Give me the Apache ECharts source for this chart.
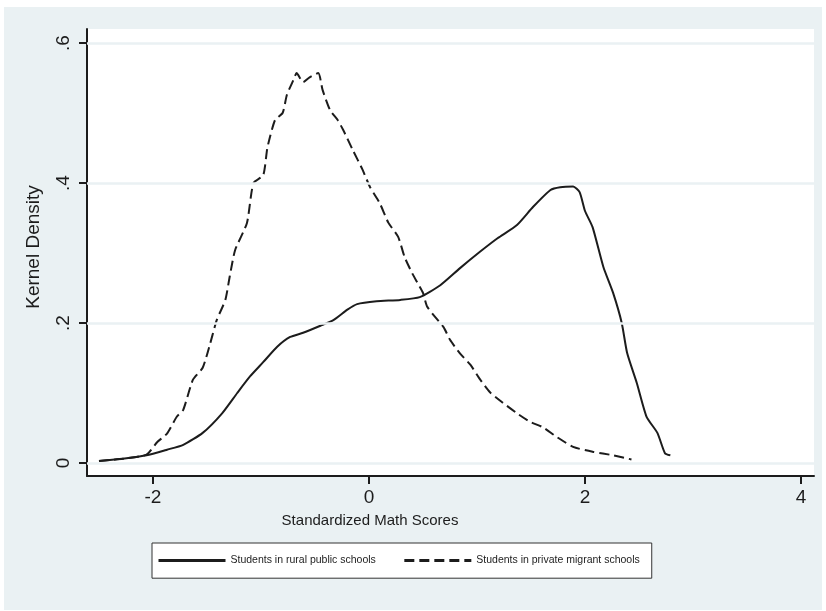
<!DOCTYPE html>
<html>
<head>
<meta charset="utf-8">
<script src="https://cdn.jsdelivr.net/npm/echarts@6/dist/echarts.min.js"></script>
<style>
html,body{margin:0;padding:0;background:#ffffff;}
#bg{position:absolute;left:4px;top:7px;width:818px;height:603px;background:#EAF1F3;}
#chart{position:absolute;left:0;top:0;width:826px;height:611px;}
</style>
</head>
<body>
<div id="bg"></div>
<div id="chart"></div>
<script>
// Students in rural public schools (solid)
const ruralX = [-2.50,-2.28,-2.06,-1.87,-1.72,-1.54,-1.36,-1.22,-1.10,-0.98,-0.85,-0.73,-0.61,-0.45,-0.33,-0.20,-0.11,0.07,0.29,0.47,0.66,0.84,1.03,1.19,1.37,1.52,1.68,1.77,1.89,1.95,2.00,2.07,2.17,2.26,2.34,2.39,2.48,2.57,2.67,2.74,2.79];
const ruralY = [0.003,0.006,0.011,0.019,0.026,0.043,0.071,0.100,0.124,0.144,0.166,0.180,0.186,0.196,0.204,0.219,0.227,0.231,0.233,0.237,0.254,0.278,0.302,0.321,0.340,0.366,0.390,0.394,0.395,0.387,0.360,0.337,0.280,0.243,0.200,0.157,0.114,0.066,0.043,0.014,0.011];
// Students in private migrant schools (dashed)
const migrantX = [-2.50,-2.28,-2.06,-1.96,-1.87,-1.78,-1.72,-1.63,-1.54,-1.47,-1.41,-1.33,-1.29,-1.24,-1.13,-1.07,-0.98,-0.94,-0.87,-0.80,-0.76,-0.70,-0.67,-0.61,-0.55,-0.47,-0.43,-0.36,-0.29,-0.24,-0.15,-0.06,0.01,0.10,0.18,0.27,0.33,0.40,0.45,0.50,0.54,0.69,0.75,0.84,0.94,1.03,1.12,1.24,1.37,1.49,1.61,1.74,1.89,2.07,2.26,2.43];
const migrantY = [0.003,0.006,0.012,0.030,0.042,0.066,0.076,0.119,0.136,0.171,0.204,0.233,0.266,0.304,0.343,0.400,0.411,0.451,0.490,0.500,0.526,0.547,0.557,0.544,0.551,0.557,0.533,0.504,0.490,0.476,0.447,0.419,0.394,0.371,0.343,0.323,0.294,0.271,0.257,0.243,0.223,0.194,0.176,0.157,0.140,0.119,0.101,0.086,0.071,0.059,0.051,0.037,0.023,0.016,0.011,0.005];
const xTicks = [-2, 0, 2, 4];
const yTicks = [0, 0.2, 0.4, 0.6];
const yTickLabels = ['0', '.2', '.4', '.6'];
const seriesNames = ['Students in rural public schools', 'Students in private migrant schools'];
const xTitle = 'Standardized Math Scores';
const yTitle = 'Kernel Density';

const FONT = '"Liberation Sans", Arial, Helvetica, sans-serif';
const INK = '#1c1c1c';
const GRIDC = '#EAF1F3';

const chart = echarts.init(document.getElementById('chart'), null, {renderer: 'canvas'});
const zip = (xs, ys) => xs.map((x, i) => [x, ys[i]]);

chart.setOption({
  backgroundColor: 'transparent',
  animation: false,
  grid: {left: 87, top: 29, right: 12, bottom: 135, show: true, backgroundColor: '#ffffff', borderWidth: 0},
  xAxis: {
    type: 'value', min: -2.611, max: 4.12,
    axisLine: {show: true, onZero: false, lineStyle: {color: INK, width: 2}},
    axisTick: {show: true, length: 8, lineStyle: {color: INK, width: 2}, customValues: xTicks},
    axisLabel: {customValues: xTicks, color: INK, fontSize: 19, fontFamily: FONT, margin: 12},
    splitLine: {show: false}
  },
  yAxis: {
    type: 'value', min: -0.0186, max: 0.62,
    axisLine: {show: true, onZero: false, lineStyle: {color: INK, width: 2}},
    axisTick: {show: true, length: 8, lineStyle: {color: INK, width: 2}, customValues: yTicks},
    axisLabel: {customValues: yTicks, rotate: 90, color: INK, fontSize: 19, fontFamily: FONT, margin: 14,
      formatter: v => yTickLabels[yTicks.findIndex(t => Math.abs(t - v) < 1e-9)] ?? ''},
    splitLine: {show: false}
  },
  legend: {
    left: 152, top: 543,
    orient: 'horizontal',
    data: seriesNames,
    backgroundColor: '#ffffff', borderColor: '#333333', borderWidth: 1, borderRadius: 0,
    padding: [12, 12, 12, 5],
    itemWidth: 67, itemHeight: 14, itemGap: 27,
    lineStyle: {width: 3},
    itemStyle: {opacity: 0, borderWidth: 0},
    textStyle: {color: INK, fontSize: 10.5, fontFamily: FONT},
    selectedMode: false
  },
  graphic: [
    {type: 'text', x: 370, y: 521, style: {text: xTitle, fill: INK, font: '15px ' + FONT, textAlign: 'center', textVerticalAlign: 'middle'}},
    {type: 'text', x: 34, y: 247, rotation: Math.PI / 2, style: {text: yTitle, fill: INK, font: '19px ' + FONT, textAlign: 'center', textVerticalAlign: 'middle'}}
  ],
  series: [
    {
      name: 'grid', type: 'line', data: [], z: 1, silent: true,
      markLine: {silent: true, symbol: 'none', label: {show: false},
        lineStyle: {color: GRIDC, width: 2.5, type: 'solid'},
        data: yTicks.map(v => ({yAxis: v}))}
    },
    {
      name: seriesNames[0], type: 'line', data: zip(ruralX, ruralY), z: 3,
      showSymbol: false, symbol: 'none', smooth: 0.2,
      lineStyle: {color: INK, width: 2, type: 'solid'}, itemStyle: {color: INK}
    },
    {
      name: seriesNames[1], type: 'line', data: zip(migrantX, migrantY), z: 3,
      showSymbol: false, symbol: 'none', smooth: 0.2,
      lineStyle: {color: INK, width: 2, type: [10, 5]}, itemStyle: {color: INK}
    }
  ]
});
</script>
</body>
</html>
